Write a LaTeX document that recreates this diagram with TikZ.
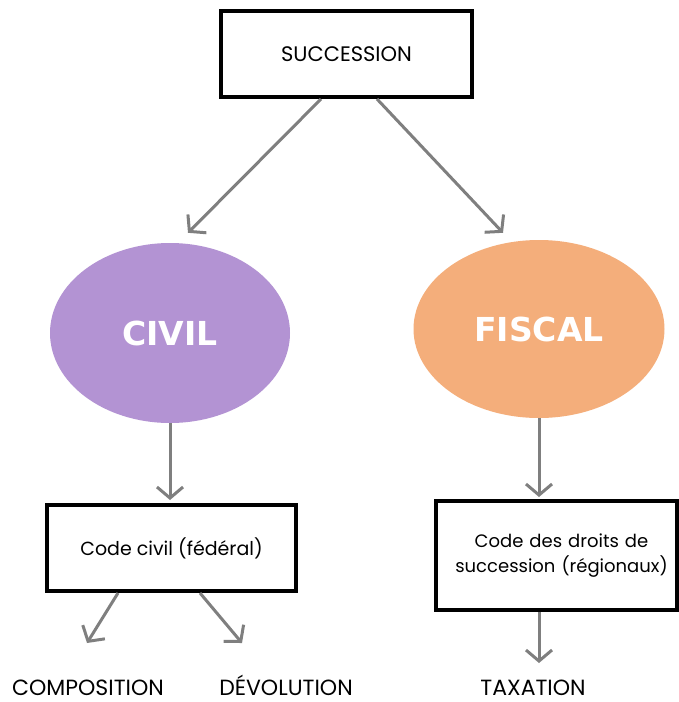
\documentclass[tikz,border=0pt]{standalone}
\usepackage{fontspec}
\setmainfont{Poppins}
\newfontfamily\boldfam{DejaVu Sans}
\usetikzlibrary{shapes.geometric,arrows.meta,calc}
\definecolor{civilc}{HTML}{B393D3}
\definecolor{fiscalc}{HTML}{F4AE7B}
\definecolor{arrc}{HTML}{7F7F7F}
\begin{document}
\begin{tikzpicture}[x=1pt,y=-1pt,
  box/.style={draw=black,line width=4pt,rectangle,fill=white,inner sep=0pt,align=center},
  blob/.style={ellipse,inner sep=0pt,text=white,font=\boldfam\bfseries\fontsize{33}{36}\selectfont},
  leaf/.style={inner sep=0pt,anchor=base,font=\fontsize{22}{24}\selectfont},
  arr/.style={draw=arrc,line width=3pt,-{Straight Barb[length=11pt,width=26pt]}}]
\useasboundingbox (0,0) rectangle (679,702);
\node[box,minimum width=251pt,minimum height=86pt,font=\fontsize{21}{24}\selectfont] (top) at (346.5,54) {SUCCESSION};
\node[blob,fill=civilc,minimum width=240pt,minimum height=180pt] (civil) at (170,333) {CIVIL};
\node[blob,fill=fiscalc,minimum width=251pt,minimum height=178pt] (fiscal) at (539,329) {FISCAL};
\node[box,minimum width=249pt,minimum height=86pt,font=\fontsize{19}{24}\selectfont] (civilbox) at (171.5,548) {Code civil (fédéral)};
\node[box,minimum width=241pt,minimum height=109pt,text width=236pt,font=\fontsize{18}{25}\selectfont] (fiscalbox) at (556.5,555.5) {\hspace*{10pt}Code des droits de\\\hspace*{10pt}succession (régionaux)};
\node[leaf] (comp) at (88,695) {COMPOSITION};
\node[leaf] (dev) at (286,695) {DÉVOLUTION};
\node[leaf] (tax) at (533,695) {TAXATION};
\draw[arr] ($(top.south)+(-25.5,0)$) -- ($(civil.north)+(18,-10)$);
\draw[arr] ($(top.south)+(30.5,0)$) -- ($(fiscal.north)+(-36,-7)$);
\draw[arr] (civil.south) -- ($(civil.south |- civilbox.north)+(0,-3)$);
\draw[arr] (fiscal.south) -- ($(fiscal.south |- fiscalbox.north)+(0,-2)$);
\draw[arr] ($(civilbox.south)+(-53.5,0)$) -- ($(comp.base)+(-1,-52)$);
\draw[arr] ($(civilbox.south)+(28.5,0)$) -- ($(dev.base)+(-44,-52)$);
\draw[arr] ($(fiscalbox.south)+(-17.5,0)$) -- ($(tax.base)+(6,-32)$);
\end{tikzpicture}
\end{document}
